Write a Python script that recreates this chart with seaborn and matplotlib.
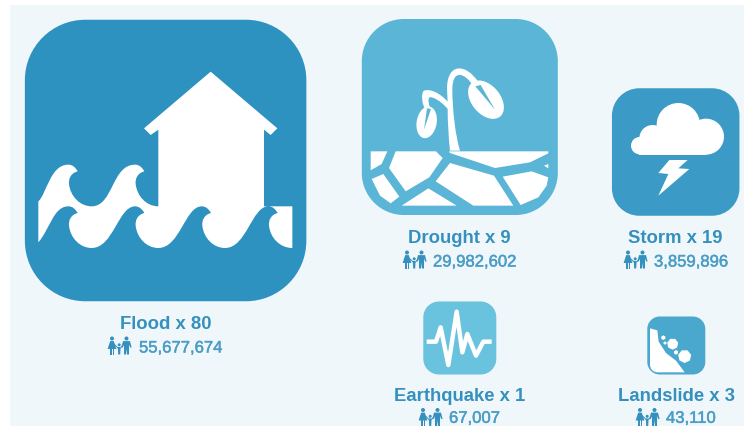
import numpy as np
import pandas as pd
import matplotlib
matplotlib.use("Agg")
import matplotlib.pyplot as plt
import matplotlib.patheffects as pe
from matplotlib.path import Path
from matplotlib.patches import PathPatch, Polygon, Circle, Rectangle, RegularPolygon
import seaborn as sns

# ---- data ----
disasters = ["Flood", "Drought", "Storm", "Earthquake", "Landslide"]
event_counts = [80, 9, 19, 1, 3]
people_affected = [55677674, 29982602, 3859896, 67007, 43110]

# ---- layout and style (pixels) ----
tile_cx = [165.6, 459.8, 675.7, 459.8, 676.3]
tile_cy = [161.5, 118, 153, 339, 346.5]
tile_px = [281.5, 196, 127.5, 73, 58]
tile_colors = ["#2d92bf", "#5ab5d6", "#3b9bc6", "#69c2de", "#4aa8cf"]
label_y = [324.5, 238.5, 238.5, 396.5, 396.5]
number_left = [139, 433, 654, 449, 666]
number_y = [349, 263, 263, 419.3, 419.3]
icon_y = [346.5, 260.5, 260.5, 418, 418]
icon_left = [107, 402, 623, 418, 635]
PANEL = "#eff7fb"
LABEL_C = "#3590bd"
NUM_C = "#4c9dc6"
W, H, DPI = 744, 427, 100

sns.set_theme(style="white")
plt.rcParams["font.family"] = ["Liberation Sans", "DejaVu Sans"]

fig = plt.figure(figsize=(W / DPI, H / DPI), dpi=DPI, facecolor="white")
ax = fig.add_axes([0, 0, 1, 1])
ax.set_xlim(0, W)
ax.set_ylim(H, 0)
ax.axis("off")
ax.add_patch(Rectangle((10, 6), W - 10, H - 6, fc=PANEL, ec="none", zorder=0))


def rounded_square(r=0.215, k=0.5523):
    h = 0.5
    c = r * (1 - k)
    v = [(-h + r, -h), (h - r, -h), (h - c, -h), (h, -h + c), (h, -h + r),
         (h, h - r), (h, h - c), (h - c, h), (h - r, h),
         (-h + r, h), (-h + c, h), (-h, h - c), (-h, h - r),
         (-h, -h + r), (-h, -h + c), (-h + c, -h), (-h + r, -h), (-h + r, -h)]
    C, L = Path.CURVE4, Path.LINETO
    codes = [Path.MOVETO, L, C, C, C, L, C, C, C, L, C, C, C, L, C, C, C, Path.CLOSEPOLY]
    return Path(v, codes)


df = pd.DataFrame({"name": disasters, "x": tile_cx, "y": tile_cy, "px": tile_px})
sns.scatterplot(
    data=df, x="x", y="y", hue="name", size="name", ax=ax, legend=False,
    palette=dict(zip(disasters, tile_colors)),
    sizes={n: (p * 72 / DPI) ** 2 for n, p in zip(disasters, tile_px)},
    marker=rounded_square(), linewidth=0, zorder=2, clip_on=False,
)
ax.set_xlim(0, W)
ax.set_ylim(H, 0)
ax.axis("off")


def tr(pts, ox, oy):
    return [(ox + x / 3, oy + y / 3) for x, y in pts]


def build(segments, ox, oy):
    """segments: start point, then points (line) or triples (curve)."""
    verts, codes = [], []
    for i, s in enumerate(segments):
        if i == 0:
            verts.append(s); codes.append(Path.MOVETO)
        elif len(s) == 3 and isinstance(s[0], tuple):
            verts += list(s); codes += [Path.CURVE4] * 3
        else:
            verts.append(s); codes.append(Path.LINETO)
    verts.append(verts[0]); codes.append(Path.CLOSEPOLY)
    return Path(tr(verts, ox, oy), codes)


def ellipse_glyph(cx, cy, a, b, deg, ox, oy, color, z=3):
    t = np.linspace(0, 2 * np.pi, 60)
    th = np.radians(deg)
    xs = cx + a * np.cos(t) * np.cos(th) - b * np.sin(t) * np.sin(th)
    ys = cy + a * np.cos(t) * np.sin(th) + b * np.sin(t) * np.cos(th)
    ax.add_patch(Polygon(tr(list(zip(xs, ys)), ox, oy), closed=True, fc=color, ec="none", zorder=z))


# ---- flood icon ----
def crest_lr(xc, y):
    """crest, tip, curl and the following trough, drawn left to right"""
    return [((xc + 13, y), (xc + 21, y + 8), (xc + 28, y + 20)),
            ((xc + 8, y + 25), (xc, y + 42), (xc + 2, y + 58)),
            ((xc + 6, y + 95), (xc + 35, y + 125), (xc + 70, y + 125))]


row1 = [(115, 607), ((140, 585), (150, 497), (205, 497))] + crest_lr(205, 497) + \
       [((340, 622), (335, 497), (405, 497))] + crest_lr(405, 497)


def crest_rl(xc, y):
    """the same outline, walked right to left, from trough to crest"""
    return [((xc + 35, y + 125), (xc + 6, y + 95), (xc + 2, y + 58)),
            ((xc, y + 42), (xc + 8, y + 25), (xc + 28, y + 20)),
            ((xc + 21, y + 8), (xc + 13, y), (xc, y))]


row2 = []
for xc in [805, 605, 405, 205]:
    row2 += crest_rl(xc, 622)
    if xc != 205:
        row2.append(((xc - 50, 622), (xc - 65, 747), (xc - 130, 747)))
row2.append(((160, 622), (150, 690), (115, 730)))

flood = row1 + [(475, 392), (452, 408), (432, 388), (632, 218), (832, 388), (812, 408),
                (792, 392), (792, 622), (877, 622), (877, 747)] + row2
ax.add_patch(PathPatch(build(flood, 0, 0), fc="white", ec="none", zorder=3))

# ---- drought icon ----
OX, OY = 350, 10
pieces = [
    [(62, 427), (112, 427), (95, 465), (62, 484)],
    [(137, 427), (258, 427), (278, 447), (238, 505), (167, 547), (117, 477)],
    [(297, 427), (595, 427), (595, 433), (540, 460), (435, 477), (300, 432)],
    [(582, 470), (595, 465), (595, 478)],
    [(65, 510), (100, 495), (148, 563), (122, 583), (90, 560)],
    [(300, 462), (432, 500), (490, 590), (370, 590), (257, 517)],
    [(458, 503), (545, 487), (595, 505), (590, 530), (565, 565), (512, 588)],
    [(235, 538), (320, 590), (155, 590)],
]
for p in pieces:
    ax.add_patch(Polygon(tr(p, OX, OY), closed=True, fc="white", ec="none", zorder=3))
stem = build([(300, 425), (330, 425),
              ((316, 380), (307, 300), (307, 240)),
              ((307, 180), (345, 190), (370, 232)),
              (384, 218),
              ((350, 165), (291, 158), (291, 240)),
              (293, 278),
              ((270, 252), (240, 238), (222, 245)),
              ((212, 252), (216, 285), (225, 300)),
              (240, 296),
              ((232, 272), (235, 262), (245, 265)),
              ((265, 270), (285, 290), (293, 300)),
              ((293, 340), (296, 390), (300, 425))], OX, OY)
ax.add_patch(PathPatch(stem, fc="white", ec="none", zorder=3))
ellipse_glyph(408, 272, 66, 43, 50, OX, OY, "white")
ellipse_glyph(230, 340, 48, 30, 100, OX, OY, "white")
ax.add_patch(Polygon(tr([(376, 232), (435, 302), (392, 228)], OX, OY), closed=True, fc=tile_colors[1], ec="none", zorder=4))
ax.add_patch(Polygon(tr([(231, 298), (222, 362), (243, 300)], OX, OY), closed=True, fc=tile_colors[1], ec="none", zorder=4))

# ---- storm icon ----
for cx, cy, r in [(985, 347, 65), (908, 388, 40), (1068, 383, 54), (869, 410, 26)]:
    ax.add_patch(Circle((OX + cx / 3, OY + cy / 3), r / 3, fc="white", ec="none", zorder=3))
ax.add_patch(Rectangle((OX + 868 / 3, OY + 384 / 3), 200 / 3, 53 / 3, fc="white", ec="none", zorder=3))
ax.add_patch(Polygon(tr([(958, 453), (1013, 453), (985, 478), (1018, 480), (925, 560), (955, 495), (925, 492)], OX, OY),
                     closed=True, fc="white", ec="none", zorder=3))

# ---- earthquake icon ----
OX2, OY2 = 380, 290
quake = np.array(tr([(140, 158), (168, 158), (182, 115), (205, 228), (230, 68), (247, 190),
                     (262, 135), (288, 200), (310, 158), (335, 158)], OX2, OY2))
ax.plot(quake[:, 0], quake[:, 1], color="white", lw=3.2, solid_joinstyle="round",
        solid_capstyle="butt", zorder=3)

# ---- landslide icon ----
slide = build([(810, 118), (832, 124), (836, 158), (858, 192), (888, 215), (914, 250), (835, 250),
               ((818, 250), (810, 240), (810, 225))], OX2, OY2)
ax.add_patch(PathPatch(slide, fc="white", ec="none", zorder=3))
for cx, cy, r, n in [(878, 165, 17, 7), (914, 202, 20, 7), (850, 146, 7, 6), (855, 162, 5, 6), (888, 190, 7, 6)]:
    ax.add_patch(RegularPolygon((OX2 + cx / 3, OY2 + cy / 3), n, radius=r / 3, fc="white", ec="none", zorder=3))


# ---- family glyph ----
def family(x0, yc, color):
    top = yc - 9
    # woman
    ax.add_patch(Circle((x0 + 5, top + 2), 2, fc=color, ec="none", zorder=3))
    ax.add_patch(Polygon([(x0 + 3.2, top + 4.6), (x0 + 6.8, top + 4.6), (x0 + 9.4, top + 12.5), (x0 + 0.6, top + 12.5)],
                         closed=True, fc=color, ec="none", zorder=3))
    ax.add_patch(Rectangle((x0 + 3.2, top + 12), 1.3, 6, fc=color, ec="none", zorder=3))
    ax.add_patch(Rectangle((x0 + 5.5, top + 12), 1.3, 6, fc=color, ec="none", zorder=3))
    # child
    ax.add_patch(Circle((x0 + 12.2, top + 8.3), 1.5, fc=color, ec="none", zorder=3))
    ax.add_patch(Polygon([(x0 + 10.8, top + 10.5), (x0 + 13.6, top + 10.5), (x0 + 13.2, top + 18), (x0 + 11.2, top + 18)],
                         closed=True, fc=color, ec="none", zorder=3))
    ax.plot([x0 + 7.5, x0 + 11], [top + 8, top + 11.5], color=color, lw=0.7, zorder=3)
    ax.plot([x0 + 16.5, x0 + 13.5], [top + 8, top + 11.5], color=color, lw=0.7, zorder=3)
    # man
    ax.add_patch(Circle((x0 + 19.5, top + 2), 2, fc=color, ec="none", zorder=3))
    ax.add_patch(Polygon([(x0 + 16, top + 4.6), (x0 + 23, top + 4.6), (x0 + 24.6, top + 11), (x0 + 23.2, top + 11),
                          (x0 + 22, top + 8), (x0 + 22, top + 18), (x0 + 20, top + 18), (x0 + 19.5, top + 12),
                          (x0 + 19, top + 18), (x0 + 17, top + 18), (x0 + 17, top + 8), (x0 + 15.8, top + 11), (x0 + 14.4, top + 11)],
                         closed=True, fc=color, ec="none", zorder=3))


# ---- labels ----
thicken = [pe.withStroke(linewidth=0.35, foreground=NUM_C)]
for i, name in enumerate(disasters):
    ax.text(tile_cx[i], label_y[i], f"{name} x {event_counts[i]}", ha="center", va="center",
            fontsize=13.3, fontweight="bold", color=LABEL_C, zorder=5)
    ax.text(number_left[i], number_y[i], f"{people_affected[i]:,}", ha="left", va="center",
            fontsize=12, color=NUM_C, zorder=5, path_effects=thicken)
    family(icon_left[i], icon_y[i], LABEL_C)

fig.savefig("out.png", dpi=DPI, facecolor="white")
